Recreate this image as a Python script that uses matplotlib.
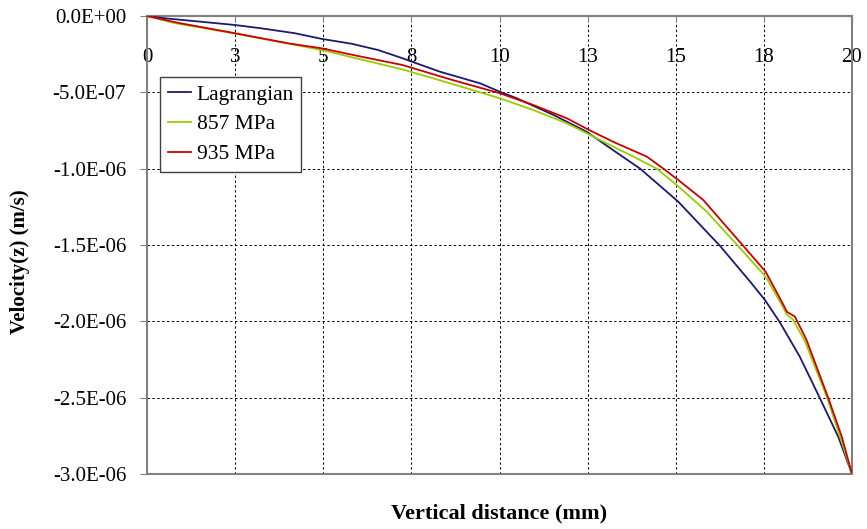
import matplotlib
matplotlib.use("Agg")
import matplotlib.pyplot as plt

# Data (x: vertical distance in mm, v: velocity z in m/s)
lag_x = [0, 0.51, 2.50, 3.25, 4.20, 4.96, 5.81, 6.56, 7.25, 8.31, 9.45, 10.01, 10.49, 11.53, 12.47,
         13.42, 13.99, 15.07, 16.26, 17.11, 17.53, 17.96, 18.52, 19.09, 19.61, 20]
lag_v = [0, -0.015e-6, -0.059e-6, -0.081e-6, -0.113e-6, -0.150e-6, -0.182e-6, -0.223e-6, -0.277e-6,
         -0.365e-6, -0.441e-6, -0.496e-6, -0.539e-6, -0.648e-6, -0.758e-6, -0.910e-6, -1.0e-6,
         -1.216e-6, -1.507e-6, -1.74e-6, -1.86e-6, -2.009e-6, -2.232e-6, -2.504e-6, -2.756e-6, -3.0e-6]

p857_x = [0, 0.75, 2.5, 4.96, 7.25, 8.6, 10.01, 10.96, 11.91, 12.57, 13.42, 13.8, 14.46, 15.07,
          15.88, 16.77, 17.55, 18.05, 18.15, 18.33, 18.67, 19.3, 19.66, 20]
p857_v = [0, -0.045e-6, -0.115e-6, -0.223e-6, -0.350e-6, -0.441e-6, -0.539e-6, -0.616e-6, -0.703e-6,
          -0.779e-6, -0.878e-6, -0.921e-6, -1.0e-6, -1.115e-6, -1.282e-6, -1.507e-6, -1.707e-6,
          -1.91e-6, -1.955e-6, -1.99e-6, -2.133e-6, -2.504e-6, -2.756e-6, -3.0e-6]

p935_x = [0, 0.89, 2.5, 4.01, 4.96, 6.09, 7.25, 8.6, 10.01, 10.96, 11.91, 12.57, 13.32, 14.18,
          14.65, 15.07, 15.78, 16.92, 17.55, 18.05, 18.15, 18.38, 18.71, 19.33, 19.71, 20]
p935_v = [0, -0.045e-6, -0.113e-6, -0.179e-6, -0.212e-6, -0.267e-6, -0.321e-6, -0.415e-6, -0.506e-6,
          -0.583e-6, -0.670e-6, -0.750e-6, -0.834e-6, -0.921e-6, -1.0e-6, -1.074e-6, -1.205e-6,
          -1.507e-6, -1.675e-6, -1.89e-6, -1.937e-6, -1.969e-6, -2.122e-6, -2.504e-6, -2.756e-6, -3.0e-6]

x_ticks = [0, 2.5, 5, 7.5, 10, 12.5, 15, 17.5, 20]
x_tick_labels = ["0", "3", "5", "8", "10", "13", "15", "18", "20"]
y_ticks = [0, -0.5e-6, -1.0e-6, -1.5e-6, -2.0e-6, -2.5e-6, -3.0e-6]
y_tick_labels = ["0.0E+00", "-5.0E-07", "-1.0E-06", "-1.5E-06", "-2.0E-06", "-2.5E-06", "-3.0E-06"]

series_names = ["Lagrangian", "857 MPa", "935 MPa"]
colors = ["#1a1a6e", "#99cc00", "#cc0000"]

plt.rcParams['font.family'] = ['Liberation Serif', 'DejaVu Serif']

fig = plt.figure(figsize=(8.67, 5.29), dpi=100)
ax = fig.add_axes([147/867, 1 - 474/529, (852 - 147)/867, (474 - 16)/529])

for xs, vs, name, c in zip([lag_x, p857_x, p935_x], [lag_v, p857_v, p935_v], series_names, colors):
    ax.plot(xs, vs, color=c, lw=1.3, label=name, zorder=3)

ax.set_xlim(0, 20)
ax.set_ylim(-3.0e-6, 0)

ax.set_xticks(x_ticks)
ax.set_xticklabels(x_tick_labels)
ax.set_yticks(y_ticks)
ax.set_yticklabels(y_tick_labels)

ax.grid(True, color="black", linestyle=(0, (2.5, 2.5)), linewidth=0.7)

spine_color = "#808080"
ax.spines['bottom'].set_position(('data', 0))
for s in ax.spines.values():
    s.set_color(spine_color)
    s.set_linewidth(1.5)
ax.axhline(-3.0e-6, color=spine_color, lw=1.5, clip_on=False, zorder=4)

ax.tick_params(axis='x', direction='out', length=4, color=spine_color, labelsize=15, pad=19)
ax.tick_params(axis='y', direction='out', length=5, color=spine_color, labelsize=15, pad=10)

fig.text(20/867, 1 - 262/529, "Velocity(z) (m/s)", fontsize=15, fontweight='bold',
         rotation=90, ha='center', va='center')
fig.text((147 + 852) / 2 / 867, 1 - 513/529, "Vertical distance (mm)", fontsize=16,
         fontweight='bold', ha='center', va='center')

leg = ax.legend(loc='upper left', bbox_to_anchor=(13/705, (474 - 77)/458), borderaxespad=0,
                fancybox=False, framealpha=1, edgecolor="#404040", fontsize=15.5,
                handlelength=1.1, handletextpad=0.25, labelspacing=0.45, borderpad=0.35)
leg.get_frame().set_linewidth(1.0)

fig.savefig("out.png", dpi=100, facecolor="white")
